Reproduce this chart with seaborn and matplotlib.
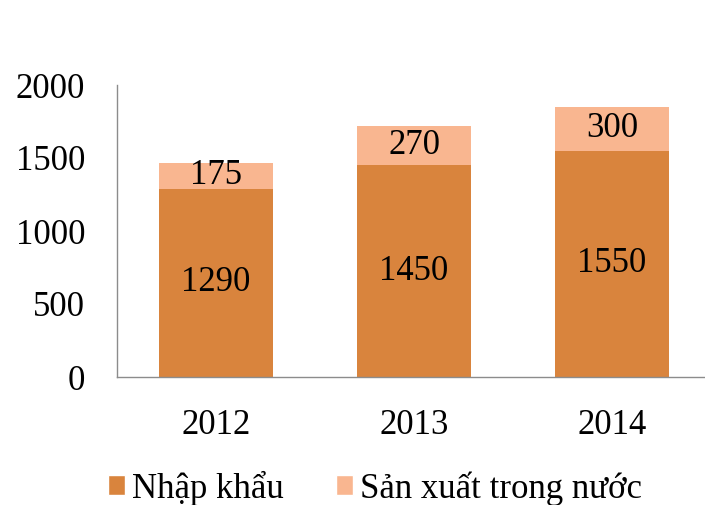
import numpy as np
import pandas as pd
import matplotlib
matplotlib.use("Agg")
import matplotlib.pyplot as plt
from matplotlib.patches import Patch
import seaborn as sns

#%% data
years = ["2012", "2013", "2014"]
nhap_khau = [1290, 1450, 1550]          # imports
san_xuat = [175, 270, 300]              # domestic production
yticks = [0, 500, 1000, 1500, 2000]

col_dark = "#D9843D"
col_light = "#F9B690"

df = pd.DataFrame({"year": years, "nk": nhap_khau, "sx": san_xuat})
df["total"] = df["nk"] + df["sx"]

sns.set_style("white")
plt.rcParams["font.family"] = ["Liberation Serif", "DejaVu Serif"]
plt.rcParams["text.color"] = "black"
plt.rcParams["xtick.color"] = "black"
plt.rcParams["ytick.color"] = "black"

fig = plt.figure(figsize=(7.05, 5.05), dpi=100)
# axes placed in pixels: left 117, bottom at y=377, top at y=85
ax = fig.add_axes([117/705, (505-377)/505, 594/705, 292/505])

# stacked bars: totals first (light), imports on top of them (dark)
sns.barplot(data=df, x="year", y="total", color=col_light, width=0.575,
            saturation=1, linewidth=0, ax=ax)
sns.barplot(data=df, x="year", y="nk", color=col_dark, width=0.575,
            saturation=1, linewidth=0, ax=ax)

# labels centred in each segment
for i, row in df.iterrows():
    ax.text(i, row["nk"]/2, str(row["nk"]), ha="center", va="center", fontsize=25)
    ax.text(i, row["nk"] + row["sx"]/2, str(row["sx"]), ha="center", va="center", fontsize=25)

ax.set_xlim(-0.5, 2.5)
ax.set_ylim(0, 2000)
ax.set_yticks(yticks)
ax.set_yticklabels([str(t) for t in yticks])
ax.tick_params(axis="y", length=0, pad=23, labelsize=25)
ax.tick_params(axis="x", length=0, pad=23, labelsize=25)
ax.set_xlabel("")
ax.set_ylabel("")

for s in ["top", "right"]:
    ax.spines[s].set_visible(False)
for s in ["left", "bottom"]:
    ax.spines[s].set_color("#8c8c8c")
    ax.spines[s].set_linewidth(1.0)

handles = [Patch(facecolor=col_dark, label="Nhập khẩu"),
           Patch(facecolor=col_light, label="Sản xuất trong nước")]
fig.legend(handles=handles, loc="center", bbox_to_anchor=(375/705, 1 - 488/505),
           ncol=2, frameon=False, fontsize=25, handlelength=0.5, handleheight=0.5,
           handletextpad=0.2, columnspacing=1.5, borderpad=0)

fig.savefig("out.png", dpi=100)
